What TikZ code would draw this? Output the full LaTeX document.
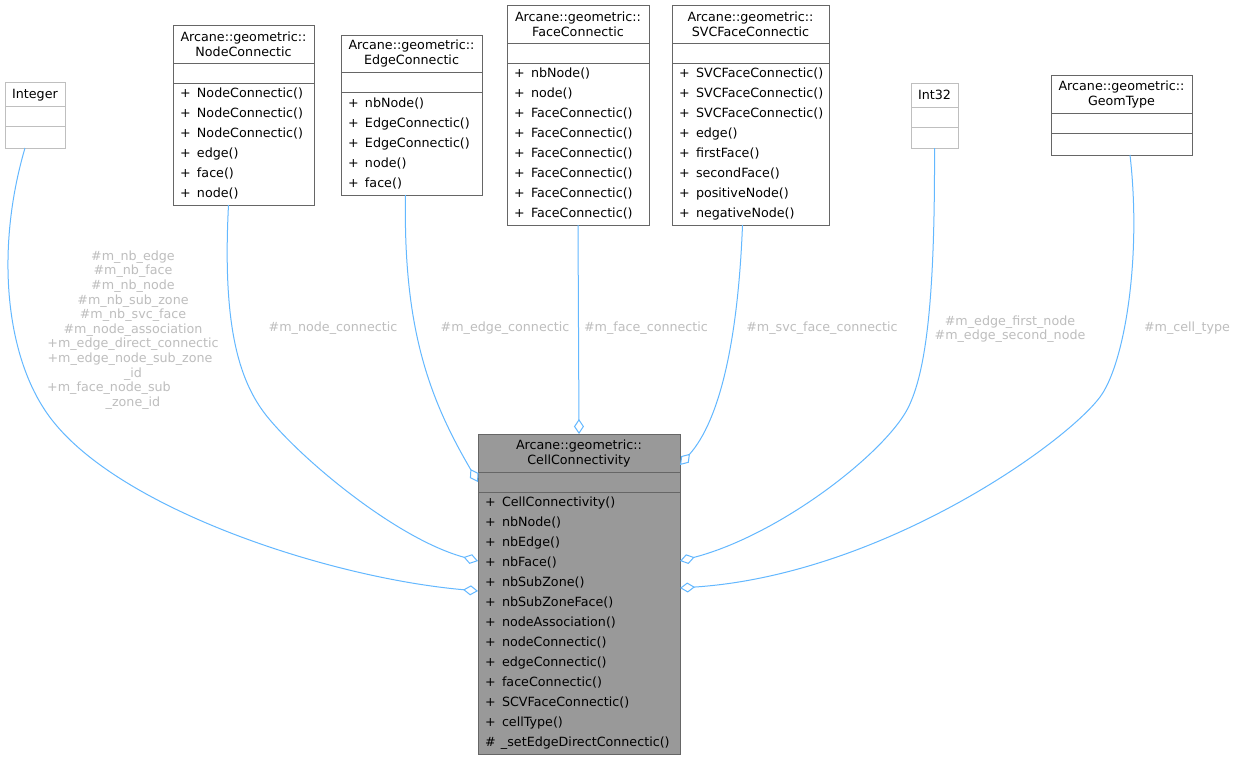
\documentclass[tikz,border=0pt]{standalone}
\usepackage{fontspec}
\setmainfont{DejaVu Sans}
\usetikzlibrary{arrows.meta}
\definecolor{edgecol}{HTML}{63B8FF}
\definecolor{lblcol}{HTML}{BEBEBE}
\definecolor{boxline}{HTML}{666666}
\definecolor{lightline}{HTML}{BFBFBF}
\definecolor{ccfill}{HTML}{999999}
\newcommand\mpub[1]{\makebox[17pt][l]{+}#1}
\newcommand\mprot[1]{\makebox[16pt][l]{\#}#1}
\tikzset{
 sec/.style={draw=boxline, line width=0.9pt, anchor=north west, inner xsep=7pt, inner ysep=0pt, outer sep=0pt, text=black},
 lsec/.style={sec, draw=lightline},
 ttl/.style={align=center, font=\fontsize{12.7}{15}\selectfont},
 ttlone/.style={ttl, text depth=0pt},
 mem/.style={align=left, font=\fontsize{12.7}{20}\selectfont},
 lbl/.style={text=lblcol, align=center, inner sep=0pt, font=\fontsize{12.7}{14.6}\selectfont},
 assoc/.style={draw=edgecol, line width=1pt, -{Diamond[open, length=15pt, width=10pt, line width=1pt]}},
}
\begin{document}
\begin{tikzpicture}[x=1pt,y=-1pt]
\useasboundingbox[fill=white] (0,0) rectangle (1238,760);

% Integer
\node[lsec, ttlone, text width=46pt, minimum height=24pt] (int-t) at (5,82) {Integer};
\node[lsec, text width=46pt, minimum height=20pt] (int-a) at (int-t.south west) {};
\node[lsec, text width=46pt, minimum height=22pt] (int-c) at (int-a.south west) {};

% NodeConnectic
\node[sec, ttl, text width=127pt, minimum height=38pt] (nc-t) at (173,25) {Arcane::geometric::\\NodeConnectic};
\node[sec, text width=127pt, minimum height=20pt] (nc-a) at (nc-t.south west) {};
\node[sec, mem, text width=127pt, minimum height=122pt] (nc-m) at (nc-a.south west)
 {\mpub{NodeConnectic()}\\\mpub{NodeConnectic()}\\\mpub{NodeConnectic()}\\\mpub{edge()}\\\mpub{face()}\\\mpub{node()}};

% EdgeConnectic
\node[sec, ttl, text width=127pt, minimum height=37pt] (ec-t) at (341,35) {Arcane::geometric::\\EdgeConnectic};
\node[sec, text width=127pt, minimum height=20pt] (ec-a) at (ec-t.south west) {};
\node[sec, mem, text width=127pt, minimum height=103pt] (ec-m) at (ec-a.south west)
 {\mpub{nbNode()}\\\mpub{EdgeConnectic()}\\\mpub{EdgeConnectic()}\\\mpub{node()}\\\mpub{face()}};

% FaceConnectic
\node[sec, ttl, text width=128pt, minimum height=38pt] (fc-t) at (507,5) {Arcane::geometric::\\FaceConnectic};
\node[sec, text width=128pt, minimum height=20pt] (fc-a) at (fc-t.south west) {};
\node[sec, mem, text width=128pt, minimum height=162pt] (fc-m) at (fc-a.south west)
 {\mpub{nbNode()}\\\mpub{node()}\\\mpub{FaceConnectic()}\\\mpub{FaceConnectic()}\\\mpub{FaceConnectic()}\\\mpub{FaceConnectic()}\\\mpub{FaceConnectic()}\\\mpub{FaceConnectic()}};

% SVCFaceConnectic
\node[sec, ttl, text width=143pt, minimum height=38pt] (sv-t) at (672,5) {Arcane::geometric::\\SVCFaceConnectic};
\node[sec, text width=143pt, minimum height=20pt] (sv-a) at (sv-t.south west) {};
\node[sec, mem, text width=143pt, minimum height=162pt] (sv-m) at (sv-a.south west)
 {\mpub{SVCFaceConnectic()}\\\mpub{SVCFaceConnectic()}\\\mpub{SVCFaceConnectic()}\\\mpub{edge()}\\\mpub{firstFace()}\\\mpub{secondFace()}\\\mpub{positiveNode()}\\\mpub{negativeNode()}};

% Int32
\node[lsec, ttlone, text width=33pt, minimum height=24pt] (i32-t) at (911,83) {Int32};
\node[lsec, text width=33pt, minimum height=20pt] (i32-a) at (i32-t.south west) {};
\node[lsec, text width=33pt, minimum height=21pt] (i32-c) at (i32-a.south west) {};

% GeomType
\node[sec, ttl, text width=127pt, minimum height=38pt] (gt-t) at (1051,75) {Arcane::geometric::\\GeomType};
\node[sec, text width=127pt, minimum height=20pt] (gt-a) at (gt-t.south west) {};
\node[sec, text width=127pt, minimum height=22pt] (gt-c) at (gt-a.south west) {};

% CellConnectivity
\node[sec, ttl, fill=ccfill, text width=188pt, minimum height=38pt] (cc-t) at (478,434) {Arcane::geometric::\\CellConnectivity};
\node[sec, fill=ccfill, text width=188pt, minimum height=20pt] (cc-a) at (cc-t.south west) {};
\node[sec, mem, fill=ccfill, text width=188pt, minimum height=262pt] (cc-m) at (cc-a.south west)
 {\mpub{CellConnectivity()}\\\mpub{nbNode()}\\\mpub{nbEdge()}\\\mpub{nbFace()}\\\mpub{nbSubZone()}\\\mpub{nbSubZoneFace()}\\\mpub{nodeAssociation()}\\\mpub{nodeConnectic()}\\\mpub{edgeConnectic()}\\\mpub{faceConnectic()}\\\mpub{SCVFaceConnectic()}\\\mpub{cellType()}\\\mprot{\_setEdgeDirectConnectic()}};

% connectors
\draw[assoc] ([xshift=-10pt]int-c.south) .. controls (-5,250) and (5,360) .. (52,420)
  .. controls (122,510) and (330,578) .. ([yshift=-99pt]cc-m.north west);
\draw[assoc] ([xshift=-15pt]nc-m.south) .. controls (222,330) and (240,385) .. (270,420)
  .. controls (309,466) and (400,540) .. ([yshift=-69pt]cc-m.north west);
\draw[assoc] ([xshift=-6pt]ec-m.south) .. controls (403,330) and (430,400) .. (cc-a.west);
\draw[assoc] (fc-m.south) -- (cc-t.north);
\draw[assoc] ([xshift=-8pt]sv-m.south) .. controls (738,340) and (720,420) .. ([yshift=-31pt]cc-t.north east);
\draw[assoc] (i32-c.south) .. controls (935,300) and (926,372) .. (908,408)
  .. controls (885,453) and (780,535) .. ([yshift=-69pt]cc-m.north east);
\draw[assoc] ([xshift=8.5pt]gt-c.south) .. controls (1142,260) and (1124,365) .. (1100,397)
  .. controls (1064,445) and (880,575) .. ([yshift=-96pt]cc-m.north east);

% labels
\node[lbl] (l-int) at (133,330) {\#m\_nb\_edge\\\#m\_nb\_face\\\#m\_nb\_node\\\#m\_nb\_sub\_zone\\\#m\_nb\_svc\_face\\\#m\_node\_association\\+m\_edge\_direct\_connectic\\+m\_edge\_node\_sub\_zone\makebox[6pt]{}\\\_id\\+m\_face\_node\_sub\makebox[48pt]{}\\\_zone\_id};
\node[lbl] (l-nc) at (333,328) {\#m\_node\_connectic};
\node[lbl] (l-ec) at (505,328) {\#m\_edge\_connectic};
\node[lbl] (l-fc) at (646,328) {\#m\_face\_connectic};
\node[lbl] (l-sv) at (822,328) {\#m\_svc\_face\_connectic};
\node[lbl] (l-i32) at (1010,329) {\#m\_edge\_first\_node\\\#m\_edge\_second\_node};
\node[lbl] (l-gt) at (1187,328) {\#m\_cell\_type};
\end{tikzpicture}
\end{document}
